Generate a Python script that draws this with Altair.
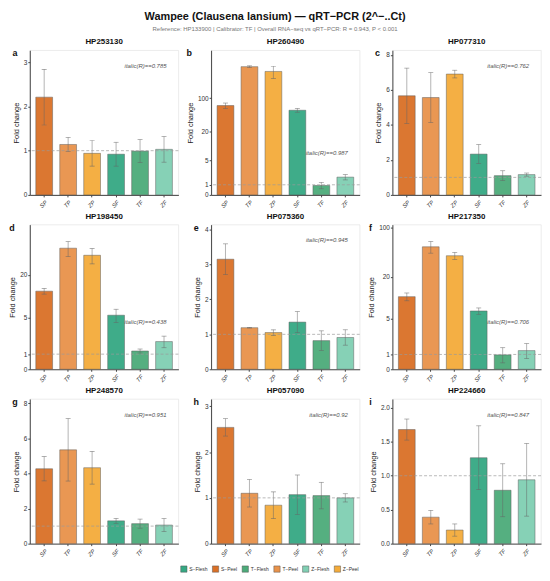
import altair as alt
import numpy as np
import pandas as pd

groups = ["SP", "TP", "ZP", "SF", "TF", "ZF"]
group_names = ["S−Peel", "T−Peel", "Z−Peel", "S−Flesh", "T−Flesh", "Z−Flesh"]
legend_order = ["S−Flesh", "S−Peel", "T−Flesh", "T−Peel", "Z−Flesh", "Z−Peel"]
legend_colors = ["#35A883", "#DA7026", "#4CAB7A", "#E8924A", "#80CFB3", "#F4AB3A"]

genes = ["HP253130", "HP260490", "HP077310", "HP198450", "HP075360",
         "HP217350", "HP248570", "HP057090", "HP224660"]
letters = ["a", "b", "c", "d", "e", "f", "g", "h", "i"]
r_values = ["0.785", "0.987", "0.762", "0.438", "0.945", "0.706", "0.951", "0.92", "0.847"]
pseudo_log = [False, True, False, True, False, True, False, False, False]

mean_a = [2.21, 1.14, 0.94, 0.92, 0.99, 1.03]
sd_a = [0.63, 0.16, 0.29, 0.27, 0.26, 0.29]
mean_b = [70, 446, 355, 56, 0.93, 1.9]
sd_b = [9, 18, 100, 5, 0.34, 0.35]
mean_c = [5.66, 5.56, 6.90, 2.33, 1.10, 1.16]
sd_c = [1.58, 1.42, 0.22, 0.54, 0.28, 0.09]
mean_d = [11.9, 47, 37.5, 5.4, 1.23, 2.0]
sd_d = [1.1, 11, 9, 1.2, 0.15, 0.52]
mean_e = [3.15, 1.19, 1.05, 1.35, 0.82, 0.91]
sd_e = [0.44, 0.01, 0.08, 0.30, 0.28, 0.22]
mean_f = [10.5, 53.5, 40, 6.5, 0.97, 1.29]
sd_f = [1.35, 10, 4.5, 0.7, 0.55, 0.58]
mean_g = [4.27, 5.35, 4.33, 1.30, 1.14, 1.06]
sd_g = [0.69, 1.78, 0.93, 0.14, 0.26, 0.37]
mean_h = [2.54, 1.10, 0.84, 1.07, 1.05, 1.00]
sd_h = [0.19, 0.30, 0.29, 0.43, 0.29, 0.09]
mean_i = [1.68, 0.39, 0.20, 1.265, 0.786, 0.94]
sd_i = [0.155, 0.10, 0.09, 0.47, 0.39, 0.535]

means = [mean_a, mean_b, mean_c, mean_d, mean_e, mean_f, mean_g, mean_h, mean_i]
sds = [sd_a, sd_b, sd_c, sd_d, sd_e, sd_f, sd_g, sd_h, sd_i]

tick_values = [[0, 1, 2, 3], [0, 1, 5, 20, 100], [0, 2, 4, 6, 8], [0, 1, 5, 20],
               [0, 1, 2, 3, 4], [0, 1, 5, 20, 100], [0, 2, 4, 6, 8], [0, 1, 2, 3],
               [0, 0.5, 1, 1.5, 2]]
y_top = [3.27, 972, 8.26, 99.5, 4.14, 110, 8.25, 3.16, 2.13]

W = 150
H = 146
FONT = "Liberation Sans"


def tf(v, pl):
    return float(np.arcsinh(v / 2.0)) if pl else float(v)


def expr(field, pl):
    if pl:
        return f"log(datum.{field}/2 + sqrt(datum.{field}*datum.{field}/4 + 1))"
    return f"datum.{field}"


def panel(k):
    pl = pseudo_log[k]
    df = pd.DataFrame({
        "grp": groups,
        "name": group_names,
        "mean": means[k],
        "lo": [m - s for m, s in zip(means[k], sds[k])],
        "hi": [m + s for m, s in zip(means[k], sds[k])],
    })
    base = alt.Chart(df).transform_calculate(
        ym=expr("mean", pl), ylo=expr("lo", pl), yhi=expr("hi", pl)
    )
    if pl:
        label_expr = "format(round(exp(datum.value) - exp(-datum.value)), 'd')"
    elif k == 8:
        label_expr = "format(datum.value, '.1f')"
    else:
        label_expr = "format(datum.value, 'd')"
    yscale = alt.Scale(domain=[0, tf(y_top[k], pl)], nice=False, zero=True)
    yaxis = alt.Axis(
        title="Fold change", values=[tf(v, pl) for v in tick_values[k]],
        labelExpr=label_expr, grid=False, tickSize=2, labelPadding=1,
        labelOverlap=False, labelFlush=False, labelBound=False,
        titlePadding=3, labelFontSize=6.5, titleFontSize=7.5, titleFontWeight="normal",
        domainColor="#444", tickColor="#444", labelColor="#333", titleColor="#222",
    )
    xscale = alt.Scale(domain=groups, paddingInner=0.3, paddingOuter=0.25)
    xaxis = alt.Axis(
        title=None, labelAngle=-45, labelFontStyle="italic", labelFontSize=6,
        tickSize=2, labelPadding=2, labelOverlap=False,
        domainColor="#444", tickColor="#444", labelColor="#333",
    )
    x = alt.X("grp:N", scale=xscale, axis=xaxis, sort=groups)

    def Y(field):
        return alt.Y(field, scale=yscale, axis=yaxis, title="Fold change")

    bars = base.mark_bar(stroke="#555555", strokeWidth=0.5, opacity=0.95).encode(
        x=x,
        y=Y("ym:Q"),
        color=alt.Color(
            "name:N",
            scale=alt.Scale(domain=legend_order, range=legend_colors),
            legend=alt.Legend(
                title=None, orient="none", direction="horizontal",
                legendX=152, legendY=520,
                symbolType="square", symbolSize=40, symbolStrokeColor="#555",
                symbolStrokeWidth=0.5, symbolOpacity=1, labelFontSize=5,
                columnPadding=3, labelOffset=2, labelColor="#333",
            ),
        ),
    )
    err = base.mark_rule(color="#666", opacity=0.7, strokeWidth=0.7).encode(
        x=x, y=Y("ylo:Q"), y2="yhi:Q"
    )
    cap_lo = base.mark_tick(color="#666", opacity=0.7, thickness=0.7, size=5).encode(
        x=x, y=Y("ylo:Q")
    )
    cap_hi = base.mark_tick(color="#666", opacity=0.7, thickness=0.7, size=5).encode(
        x=x, y=Y("yhi:Q")
    )
    ref = alt.Chart(pd.DataFrame({"r": [1.0]})).transform_calculate(
        yr=expr("r", pl)
    ).mark_rule(color="#999", strokeDash=[3, 2], strokeWidth=0.7).encode(y=Y("yr:Q"))

    ann_y = {1: 104, 3: 98, 5: 98}.get(k, 16)
    ann = alt.Chart(pd.DataFrame({"t": ["italic(R)==" + r_values[k]]})).mark_text(
        align="right", baseline="middle", fontStyle="italic", fontSize=6, color="#555"
    ).encode(x=alt.value(W * 0.92), y=alt.value(ann_y), text="t:N")

    nlab = max(len(str(v)) for v in tick_values[k])
    if k == 8:
        nlab = 3
    off = {1: -15, 2: -18, 3: -22}[nlab]
    let = alt.Chart(pd.DataFrame({"l": [letters[k]]})).mark_text(
        align="center", baseline="middle", fontWeight="bold", fontSize=9, color="#111"
    ).encode(x=alt.value(off), y=alt.value(3), text="l:N")

    return alt.layer(bars, err, cap_lo, cap_hi, ref, ann, let).properties(
        width=W, height=H,
        title=alt.TitleParams(genes[k], fontSize=8, fontWeight="bold", offset=3,
                              anchor="middle", color="#111"),
    )


charts = [panel(k) for k in range(9)]

chart = alt.concat(*charts, columns=3, spacing={"row": 2, "column": 6}).resolve_scale(
    x="independent", y="independent", color="shared"
).properties(
    padding={"left": 0, "top": 0, "right": 0, "bottom": 0},
    title=alt.TitleParams(
        "Wampee (Clausena lansium) — qRT−PCR (2^−..Ct)",
        subtitle="Reference: HP133900  |  Calibrator: TF  |  Overall RNA−seq vs qRT−PCR: R = 0.943, P < 0.001",
        fontSize=11, fontWeight="bold", subtitleFontSize=6, subtitleColor="#777",
        subtitlePadding=4, anchor="middle", offset=6, color="#111",
    )
).configure(font=FONT).configure_view(stroke="#e3e3e3", strokeWidth=0.7)

chart.save("out.html", embed_options={"renderer": "svg", "actions": False})
